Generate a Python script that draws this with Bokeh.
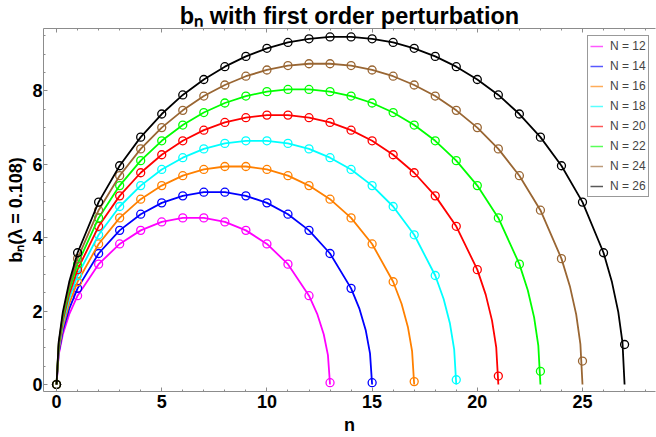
from bokeh.plotting import figure
from bokeh.models import Legend, LegendItem, LinearAxis, SingleIntervalTicker, Range1d
from bokeh.embed import file_html
from bokeh.resources import INLINE

# ---- data ----
N_values = [12, 14, 16, 18, 20, 22, 24, 26]
colors = ["#ff00ff", "#0000ff", "#ff8000", "#00ffff", "#ff0000", "#00ff00", "#996633", "#000000"]

# circle values b_n for n = 1..N+1 (n = 0 is 0 for all)
b12 = [2.42, 3.28, 3.83, 4.20, 4.43, 4.54, 4.54, 4.43, 4.20, 3.83, 3.28, 2.42, 0.05]
b14 = [2.62, 3.57, 4.20, 4.64, 4.95, 5.14, 5.24, 5.24, 5.14, 4.95, 4.64, 4.20, 3.57, 2.62, 0.05]
b16 = [2.80, 3.83, 4.54, 5.05, 5.42, 5.69, 5.86, 5.94, 5.94, 5.86, 5.69, 5.42, 5.05, 4.54, 3.83,
       2.80, 0.08]
b18 = [2.97, 4.08, 4.85, 5.42, 5.86, 6.18, 6.42, 6.57, 6.64, 6.64, 6.57, 6.42, 6.18, 5.86, 5.42,
       4.85, 4.08, 2.97, 0.13]
b20 = [3.13, 4.31, 5.14, 5.77, 6.26, 6.64, 6.93, 7.14, 7.27, 7.34, 7.34, 7.27, 7.14, 6.93, 6.64,
       6.26, 5.77, 5.14, 4.31, 3.13, 0.23]
b22 = [3.28, 4.54, 5.42, 6.10, 6.64, 7.07, 7.41, 7.67, 7.86, 7.98, 8.04, 8.04, 7.98, 7.86, 7.67,
       7.41, 7.07, 6.64, 6.10, 5.42, 4.54, 3.28, 0.36]
b24 = [3.43, 4.75, 5.69, 6.42, 7.00, 7.47, 7.86, 8.16, 8.40, 8.57, 8.69, 8.74, 8.74, 8.69, 8.57,
       8.40, 8.16, 7.86, 7.47, 7.00, 6.42, 5.69, 4.75, 3.43, 0.64]
b26 = [3.59, 4.97, 5.96, 6.74, 7.37, 7.89, 8.31, 8.66, 8.94, 9.16, 9.32, 9.42, 9.47, 9.47, 9.42,
       9.32, 9.16, 8.94, 8.66, 8.31, 7.89, 7.37, 6.74, 5.96, 4.97, 3.59, 1.09]
circle_values = [b12, b14, b16, b18, b20, b22, b24, b26]

# fitted curve near both ends (distance from the end point -> value)
edge_offsets = [0.1, 0.3, 0.6]
edge12 = [0.80, 1.37, 1.91]
edge14 = [0.85, 1.47, 2.06]
edge16 = [0.91, 1.57, 2.20]
edge18 = [0.96, 1.66, 2.33]
edge20 = [1.01, 1.74, 2.45]
edge22 = [1.06, 1.83, 2.57]
edge24 = [1.10, 1.91, 2.68]
edge26 = [1.15, 1.98, 2.79]
edge_values = [edge12, edge14, edge16, edge18, edge20, edge22, edge24, edge26]

x_ticks_interval = 5
y_ticks_interval = 2

FONT = "Liberation Sans"
GRAY = "#8c8c8c"

p = figure(width=656, height=437, output_backend="svg", toolbar_location=None,
           x_range=Range1d(-0.62, 28.47), y_range=Range1d(-0.19, 9.70),
           min_border_left=43, min_border_right=1, min_border_top=28, min_border_bottom=45,
           x_axis_type=None, y_axis_type=None)
p.outline_line_color = None
p.xgrid.visible = False
p.ygrid.visible = False
p.background_fill_color = "white"

p.title.text = "b\u2099 with first order perturbation"
p.title.text_font = FONT
p.title.text_font_style = "bold"
p.title.text_font_size = "23.5px"
p.title.text_color = "black"
p.title.align = "center"
p.title.offset = 0
p.title.standoff = 0

def style_axis(ax, show_labels=True):
    ax.axis_line_color = GRAY
    ax.major_tick_line_color = GRAY
    ax.minor_tick_line_color = GRAY
    ax.major_tick_in = 4
    ax.major_tick_out = 0
    ax.minor_tick_in = 2
    ax.minor_tick_out = 0
    ax.major_label_text_font = FONT
    ax.major_label_text_font_style = "bold"
    ax.major_label_text_font_size = "18px"
    ax.major_label_text_color = "black" if show_labels else None
    ax.axis_label_text_font = FONT
    ax.axis_label_text_font_style = "bold"
    ax.axis_label_text_font_size = "18px"
    ax.axis_label_text_color = "black"

xaxis = LinearAxis(ticker=SingleIntervalTicker(interval=x_ticks_interval, num_minor_ticks=5),
                   axis_label="n")
style_axis(xaxis)
xaxis.major_label_standoff = 3
xaxis.axis_label_standoff = 4
p.add_layout(xaxis, "below")

yaxis = LinearAxis(ticker=SingleIntervalTicker(interval=y_ticks_interval, num_minor_ticks=4),
                   axis_label="b\u2099(\u03bb = 0.108)")
style_axis(yaxis)
yaxis.major_label_standoff = 1
yaxis.axis_label_standoff = 3
p.add_layout(yaxis, "left")

top_axis = LinearAxis(ticker=SingleIntervalTicker(interval=x_ticks_interval, num_minor_ticks=5))
style_axis(top_axis, show_labels=False)
top_axis.major_label_text_font_size = "0px"
top_axis.major_label_standoff = 0
p.add_layout(top_axis, "above")

legend_items = []
for N, col, circ, edge in zip(N_values, colors, circle_values, edge_values):
    ns = list(range(1, N + 1))
    lx = [0.0] + edge_offsets + ns + [N + 1 - o for o in reversed(edge_offsets)] + [N + 1]
    ly = [0.0] + edge + circ[:N] + list(reversed(edge)) + [0.0]
    p.line(lx, ly, line_color=col, line_width=1.8)
    cx = list(range(0, N + 2))
    cy = [0.0] + circ
    p.scatter(cx, cy, marker="circle", size=8, fill_color=None, line_color=col, line_width=1.3)
    # legend swatch (drawn outside the visible range)
    dummy = p.line(x=[-5, -4], y=[-5, -5], line_color=col, line_width=1.5, line_alpha=0.65)
    legend_items.append(LegendItem(label=f"N = {N}", renderers=[dummy]))

legend = Legend(items=legend_items, location=(544, 194))
legend.label_text_font = FONT
legend.label_text_font_size = "12px"
legend.label_height = 16
legend.glyph_height = 16
legend.glyph_width = 13
legend.label_standoff = 7
legend.spacing = 4
legend.padding = 2
legend.margin = 0
legend.border_line_color = "#333333"
legend.border_line_width = 1
legend.background_fill_color = "white"
legend.background_fill_alpha = 1.0
p.add_layout(legend, "center")

open("out.html", "w").write(file_html(p, INLINE))
